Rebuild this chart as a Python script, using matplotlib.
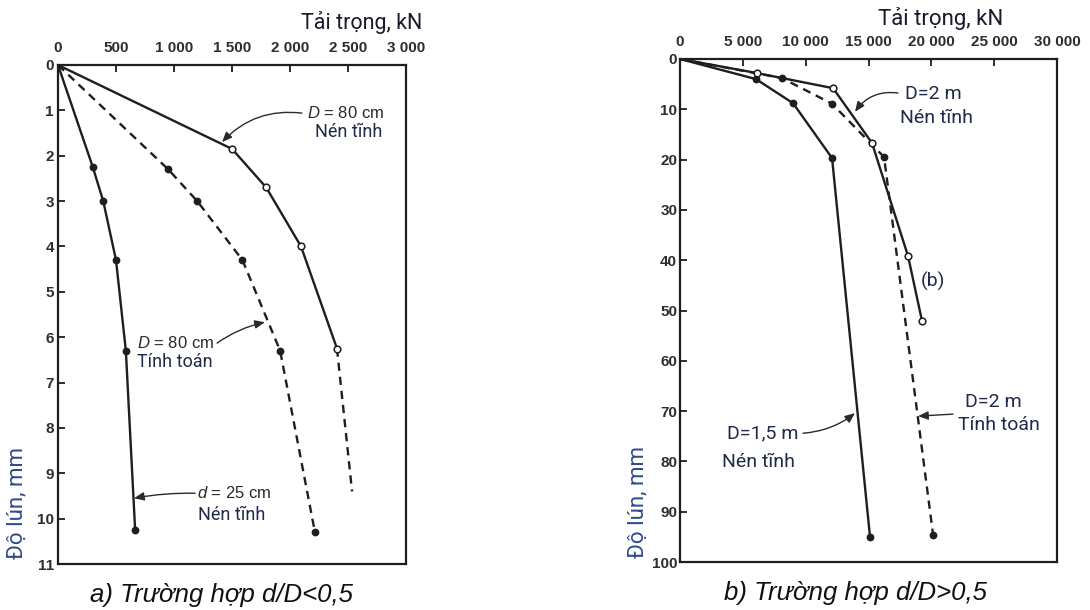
import matplotlib
matplotlib.use("Agg")
import matplotlib.pyplot as plt

plt.rcParams['mathtext.fontset'] = 'custom'
plt.rcParams['mathtext.it'] = 'Liberation Sans:italic'
plt.rcParams['mathtext.rm'] = 'Liberation Sans'

# ---------------- data: panel a ----------------
a_xticks = [0, 500, 1000, 1500, 2000, 2500, 3000]
a_xticklabels = ["0", "500", "1 000", "1 500", "2 000", "2 500", "3 000"]
a_yticks = [0, 1, 2, 3, 4, 5, 6, 7, 8, 9, 10, 11]

a_d25_static_load = [0, 300, 390, 500, 585, 665]
a_d25_static_settle = [0, 2.25, 3.0, 4.3, 6.3, 10.25]

a_D80_calc_load = [0, 950, 1200, 1590, 1915, 2215]
a_D80_calc_settle = [0, 2.3, 3.0, 4.3, 6.3, 10.3]

a_D80_static_load = [0, 1500, 1795, 2095, 2405]
a_D80_static_settle = [0, 1.85, 2.7, 4.0, 6.25]
a_D80_static_ext_load = [2405, 2535]
a_D80_static_ext_settle = [6.25, 9.4]

# ---------------- data: panel b ----------------
b_xticks = [0, 5000, 10000, 15000, 20000, 25000, 30000]
b_xticklabels = ["0", "5 000", "10 000", "15 000", "20 000", "25 000", "30 000"]
b_yticks = [0, 10, 20, 30, 40, 50, 60, 70, 80, 90, 100]

b_D15_static_load = [0, 6050, 9000, 12100, 15120]
b_D15_static_settle = [0, 4.0, 8.8, 19.7, 95]

b_D2_static_load = [0, 6130, 12180, 15280, 18150, 19260]
b_D2_static_settle = [0, 2.8, 5.8, 16.7, 39.2, 52.1]

b_D2_calc_load = [0, 8120, 12100, 16240, 20140]
b_D2_calc_settle = [0, 3.8, 8.9, 19.5, 94.6]

LINE = '#1e1e1e'
TICK = '#2e2e2e'
NAVY = '#1f2a48'
BLUE = '#2f4b8c'
W, H = 1090, 610

fig = plt.figure(figsize=(10.9, 6.1), dpi=100)
ax_a = fig.add_axes([58 / W, 1 - 564 / H, 348 / W, 499 / H])
ax_b = fig.add_axes([680 / W, 1 - 562 / H, 377 / W, 503 / H])


def style_axes(ax, xlim, ylim, xticks, xlabels, yticks, ylpad):
    ax.set_xlim(*xlim)
    ax.set_ylim(*ylim)
    ax.xaxis.tick_top()
    ax.set_xticks(xticks)
    ax.set_xticklabels(xlabels)
    ax.set_yticks(yticks)
    ax.tick_params(axis='both', direction='in', length=5, width=1.3,
                   color=LINE, labelcolor=TICK, labelsize=11)
    ax.tick_params(axis='x', pad=7)
    ax.tick_params(axis='y', pad=ylpad)
    for lab in ax.get_xticklabels() + ax.get_yticklabels():
        lab.set_fontfamily('Liberation Sans')
        lab.set_fontweight('bold')
    for s in ax.spines.values():
        s.set_linewidth(1.6)
        s.set_color(LINE)


style_axes(ax_a, (0, 3000), (11, 0), a_xticks, a_xticklabels, a_yticks, 3)
style_axes(ax_b, (0, 30000), (100, 0), b_xticks, b_xticklabels, b_yticks, 2)

solid = dict(color=LINE, lw=1.7, ls='-')
dashed = dict(color=LINE, lw=1.7, ls=(0, (3.5, 2.5)))
filled = dict(marker='o', ms=4.6, mfc=LINE, mec=LINE, markevery=slice(1, None))
opened = dict(marker='o', ms=4.8, mfc='white', mec=LINE, mew=1.1, markevery=slice(1, None))

# panel a curves
ax_a.plot(a_d25_static_load, a_d25_static_settle, **solid, **filled)
ax_a.plot(a_D80_calc_load, a_D80_calc_settle, **dashed, **filled)
ax_a.plot(a_D80_static_ext_load, a_D80_static_ext_settle, **dashed)
ax_a.plot(a_D80_static_load, a_D80_static_settle, **solid, **opened)

# panel b curves
ax_b.plot(b_D15_static_load, b_D15_static_settle, **solid, **filled)
ax_b.plot(b_D2_calc_load, b_D2_calc_settle, **dashed, **filled)
ax_b.plot(b_D2_static_load, b_D2_static_settle, **solid, **opened)

arrow = dict(arrowstyle='-|>,head_length=0.6,head_width=0.25', color='#2a2a2a',
             lw=1.0, shrinkA=0, shrinkB=0)

TXT1 = dict(fontfamily='Liberation Sans', color='#2a2a2a', fontsize=12, va='center', ha='left')
TXT2a = dict(fontfamily='Roboto', color=NAVY, fontsize=13, va='center', ha='left')
TXT2b = dict(fontfamily='Roboto', color=NAVY, fontsize=14, va='center', ha='left')

# ---- annotations panel a ----
ax_a.annotate('', xy=(1414, 1.70), xytext=(2103, 1.06),
              arrowprops=dict(**arrow, connectionstyle='arc3,rad=0.25'))
ax_a.text(2147, 1.06, r'$D$ = 80 cm', **TXT1)
ax_a.text(2216, 1.48, 'Nén tĩnh', **TXT2a)

ax_a.annotate('', xy=(1784, 5.67), xytext=(1371, 6.13),
              arrowprops=dict(**arrow, connectionstyle='arc3,rad=-0.1'))
ax_a.text(681, 6.13, r'$D$ = 80 cm', **TXT1)
ax_a.text(681, 6.55, 'Tính toán', **TXT2a)

ax_a.annotate('', xy=(655, 9.55), xytext=(1181, 9.44),
              arrowprops=dict(**arrow, connectionstyle='arc3,rad=0.05'))
ax_a.text(1198, 9.44, r'$d$ = 25 cm', **TXT1)
ax_a.text(1207, 9.92, 'Nén tĩnh', **TXT2a)

# ---- annotations panel b ----
ax_b.annotate('', xy=(13927, 10.5), xytext=(17348, 6.76),
              arrowprops=dict(**arrow, connectionstyle='arc3,rad=0.3'))
ax_b.text(17906, 7.0, 'D=2 m', **TXT2b)
ax_b.text(17508, 11.7, 'Nén tĩnh', **TXT2b)

ax_b.text(20134, 44.3, '(b)', **dict(TXT2b, ha='center'))

ax_b.annotate('', xy=(18940, 71.0), xytext=(21725, 70.6),
              arrowprops=dict(**arrow, connectionstyle='arc3,rad=0'))
ax_b.text(22680, 68.2, 'D=2 m', **TXT2b)
ax_b.text(22123, 72.8, 'Tính toán', **TXT2b)

ax_b.annotate('', xy=(13927, 70.4), xytext=(9788, 74.4),
              arrowprops=dict(**arrow, connectionstyle='arc3,rad=0.15'))
ax_b.text(3740, 74.4, 'D=1,5 m', **TXT2b)
ax_b.text(3342, 80.1, 'Nén tĩnh', **TXT2b)

# ---- axis titles / captions ----
fig.text(422 / W, 1 - 22 / H, 'Tải trọng, kN', fontfamily='Roboto', fontsize=15.5,
         color='#1a1a2a', ha='right', va='center')
fig.text(1003 / W, 1 - 18 / H, 'Tải trọng, kN', fontfamily='Roboto', fontsize=16,
         color='#1a1a2a', ha='right', va='center')

fig.text(17 / W, 1 - 503 / H, 'Độ lún, mm', fontfamily='Roboto', fontsize=16,
         color=BLUE, rotation=90, ha='center', va='center')
fig.text(638 / W, 1 - 502 / H, 'Độ lún, mm', fontfamily='Roboto', fontsize=16,
         color=BLUE, rotation=90, ha='center', va='center')

fig.text(221 / W, 1 - 595 / H, 'a) Trường hợp d/D<0,5', fontfamily='Liberation Sans',
         style='italic', fontsize=18.5, color='#111111', ha='center', va='center')
fig.text(855 / W, 1 - 593 / H, 'b) Trường hợp d/D>0,5', fontfamily='Liberation Sans',
         style='italic', fontsize=18.5, color='#111111', ha='center', va='center')

fig.savefig('out.png', dpi=100, facecolor='white')
